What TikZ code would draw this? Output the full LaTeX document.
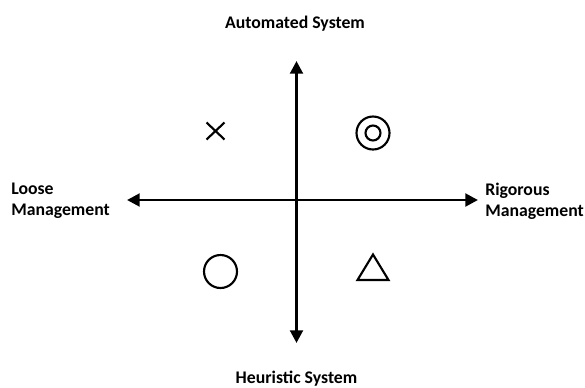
\documentclass[tikz,border=0pt]{standalone}
\usepackage{fontspec}
\setmainfont{Carlito}
\usetikzlibrary{arrows.meta}
\begin{document}
\begin{tikzpicture}[x=0.75pt,y=-0.75pt,
  axis/.style={line width=2.2pt,-{Triangle[length=9.5pt,width=9.5pt]},shorten >=0pt},
  lbl/.style={font=\bfseries\fontsize{13.3}{15.5}\selectfont,inner sep=0pt},
  sym/.style={line width=1.6pt}]
\useasboundingbox (0,0) rectangle (585,387);
\coordinate (c) at (296.5,200);
\coordinate (top) at (296.5,61);
\coordinate (bot) at (296.5,343);
\coordinate (lft) at (127,200);
\coordinate (rgt) at (478,200);
\draw[axis] (c) -- (top);
\draw[axis] (c) -- (bot);
\draw[axis] (c) -- (lft);
\draw[axis] (c) -- (rgt);
\node[lbl] (auto) at (295,24) {Automated System};
\node[lbl] (heur) at (296.5,378.5) {Heuristic System};
\node[lbl,anchor=west,align=left] (loose) at (11,201) {Loose\\Management};
\node[lbl,anchor=west,align=left] (rig) at (485,201) {Rigorous\\Management};
% symbols
\node[sym,draw,circle,minimum size=24.75pt,inner sep=0pt] (dbl) at (373,133) {};
\node[sym,draw,circle,minimum size=11.25pt,inner sep=0pt] (dblin) at (373,133) {};
\node[sym,draw,circle,minimum size=24.75pt,inner sep=0pt] (circ) at (220.5,271.5) {};
\draw[sym] (206.5,122.5) -- (224.5,139.5) (224.5,122.5) -- (206.5,139.5);
\draw[sym,line join=miter] (373,254.5) -- (388.5,280) -- (357.5,280) -- cycle;
\end{tikzpicture}
\end{document}
